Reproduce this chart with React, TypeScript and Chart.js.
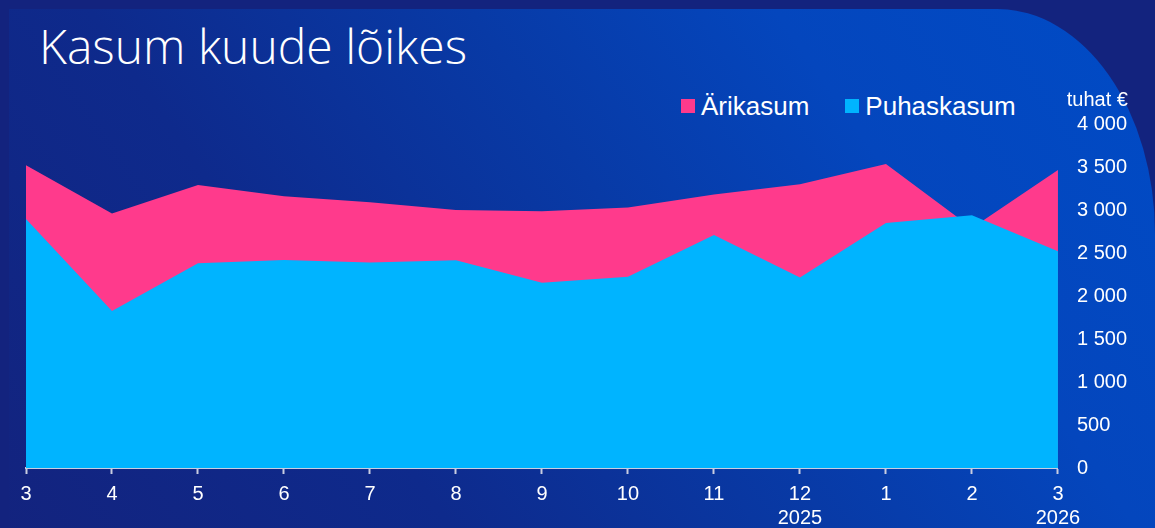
import React, { useEffect, useRef } from "react";
import { Chart, registerables } from "chart.js";

Chart.register(...registerables);

const months = ["3", "4", "5", "6", "7", "8", "9", "10", "11", "12", "1", "2", "3"];
const years = ["", "", "", "", "", "", "", "", "", "2025", "", "", "2026"];
const arikasum = [3520, 2960, 3290, 3160, 3090, 3000, 2985, 3030, 3180, 3300, 3535, 2790, 3465];
const puhaskasum = [2895, 1825, 2380, 2420, 2390, 2415, 2155, 2225, 2710, 2215, 2850, 2940, 2520];
const yTicks = { min: 0, max: 4000, step: 500 };
const unitLabel = "tuhat €";
const title = "Kasum kuude lõikes";

const PINK = "#ff3a8c";
const CYAN = "#00b4ff";
const FONT = "'Liberation Sans', Arial, sans-serif";

const fmt = (v: number) => String(v).replace(/\B(?=(\d{3})+(?!\d))/g, " ");

const unitPlugin = {
  id: "unitLabel",
  afterDraw(chart: any) {
    const ctx = chart.ctx;
    const y = chart.scales.y;
    ctx.save();
    ctx.fillStyle = "#ffffff";
    ctx.font = `20px ${FONT}`;
    ctx.textAlign = "right";
    ctx.textBaseline = "middle";
    ctx.fillText(unitLabel, chart.chartArea.right + 70, y.getPixelForValue(4000) - 24);
    ctx.restore();
  },
};

export default function App() {
  const ref = useRef<HTMLCanvasElement | null>(null);

  useEffect(() => {
    if (!ref.current) return;
    const labels = months.map((m, i) => (years[i] ? [m, years[i]] : m));
    const chart = new Chart(ref.current, {
      type: "line",
      data: {
        labels,
        datasets: [
          {
            label: "Puhaskasum",
            data: puhaskasum,
            backgroundColor: CYAN,
            borderColor: CYAN,
            borderWidth: 0,
            pointRadius: 0,
            fill: "origin",
            tension: 0,
          },
          {
            label: "Ärikasum",
            data: arikasum,
            backgroundColor: PINK,
            borderColor: PINK,
            borderWidth: 0,
            pointRadius: 0,
            fill: "origin",
            tension: 0,
          },
        ],
      },
      options: {
        animation: false,
        responsive: false,
        devicePixelRatio: 1,
        layout: { padding: { left: 26, right: 9, top: 124, bottom: 0 } },
        plugins: {
          legend: { display: false },
          tooltip: { enabled: false },
          title: { display: false },
        },
        scales: {
          x: {
            offset: false,
            grid: {
              display: true,
              drawOnChartArea: false,
              drawTicks: true,
              tickLength: 6,
              color: "#c9cde0",
              tickWidth: 2,
            },
            border: { display: true, color: "#c9cde0", width: 2 },
            ticks: {
              color: "#ffffff",
              font: { family: FONT, size: 20, lineHeight: 1.2 },
              padding: 8,
              maxRotation: 0,
              autoSkip: false,
            },
          },
          y: {
            position: "right",
            min: yTicks.min,
            max: yTicks.max,
            grid: { display: false, drawTicks: false },
            border: { display: false },
            ticks: {
              stepSize: yTicks.step,
              color: "#ffffff",
              font: { family: FONT, size: 20 },
              padding: 19,
              callback: (v: any) => fmt(Number(v)),
            },
          },
        },
      },
      plugins: [unitPlugin],
    });
    return () => chart.destroy();
  }, []);

  return (
    <div
      style={{
        position: "fixed",
        left: 0,
        top: 0,
        width: 1155,
        height: 528,
        background: "#13237e",
        overflow: "hidden",
      }}
    >
      <div
        style={{
          position: "absolute",
          left: 9,
          top: 9,
          right: 0,
          bottom: -20,
          borderTopRightRadius: "158px 225px",
          background:
            "linear-gradient(55deg, #13237e 0%, #0e2a8c 30%, #083aa6 55%, #0446bd 75%, #004bc6 100%)",
        }}
      />
      <div
        style={{
          position: "absolute",
          left: 39,
          top: 22,
          color: "#ffffff",
          fontFamily: "'Open Sans', sans-serif",
          fontWeight: 300,
          fontSize: 48,
          lineHeight: 1,
          whiteSpace: "nowrap",
        }}
      >
        {title}
      </div>
      <div
        style={{
          position: "absolute",
          left: 681,
          top: 90,
          display: "flex",
          alignItems: "center",
          color: "#ffffff",
          fontFamily: FONT,
          fontSize: 26,
          lineHeight: "32px",
          whiteSpace: "nowrap",
        }}
      >
        <span style={{ width: 14, height: 14, background: PINK, display: "inline-block", marginRight: 6 }} />
        <span style={{ marginRight: 36 }}>Ärikasum</span>
        <span style={{ width: 14, height: 14, background: CYAN, display: "inline-block", marginRight: 6 }} />
        <span>Puhaskasum</span>
      </div>
      <canvas
        ref={ref}
        width={1155}
        height={538}
        style={{ position: "absolute", left: 0, top: 0, width: 1155, height: 538 }}
      />
    </div>
  );
}
